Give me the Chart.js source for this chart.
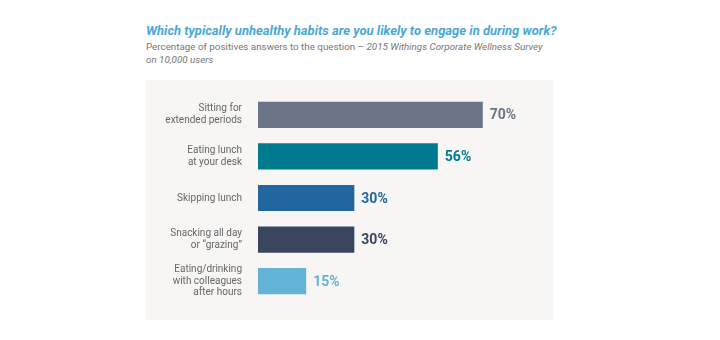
<!DOCTYPE html>
<html>
<head>
<meta charset="utf-8">
<script src="https://cdn.jsdelivr.net/npm/chart.js@4/dist/chart.umd.min.js"></script>
<style>
  body { margin: 0; background: #fff; font-family: Roboto, sans-serif; }
  #wrap { position: relative; width: 720px; height: 340px; }
  #panel { position: absolute; left: 146px; top: 80px; width: 407px; height: 240px; background: #f7f6f5; }
  #title { position: absolute; left: 146px; top: 23px; font-size: 13px; font-weight: bold; font-style: italic; color: #4ba7d6; white-space: nowrap; }
  #sub { position: absolute; left: 146px; top: 41px; font-size: 9.8px; color: #777; line-height: 12.5px; white-space: nowrap; }
  canvas { position: absolute; left: 0; top: 0; }
</style>
</head>
<body>
<div id="wrap">
  <div id="panel"></div>
  <div id="title">Which typically unhealthy habits are you likely to engage in during work?</div>
  <div id="sub">Percentage of positives answers to the question – <i>2015 Withings Corporate Wellness Survey</i><br><i>on 10,000 users</i></div>
  <canvas id="chart" width="720" height="340"></canvas>
</div>
<script>
var habits = [
    ['Sitting for', 'extended periods'],
    ['Eating lunch', 'at your desk'],
    ['Skipping lunch'],
    ['Snacking all day', 'or \u201cgrazing\u201d'],
    ['Eating/drinking', 'with colleagues', 'after hours']
];
var percents = [70, 56, 30, 30, 15];
var barColors = ['#6b7587', '#007a8f', '#2266a0', '#3a4560', '#62b3d6'];
var labelColors = ['#6b7587', '#007a8f', '#2266a0', '#3a4560', '#62b3d6'];

var valueLabels = {
    id: 'valueLabels',
    afterDatasetsDraw: function (chart) {
        var ctx = chart.ctx;
        var meta = chart.getDatasetMeta(0);
        ctx.save();
        ctx.font = 'bold 14px Roboto';
        ctx.textBaseline = 'middle';
        ctx.textAlign = 'left';
        meta.data.forEach(function (bar, i) {
            ctx.fillStyle = labelColors[i];
            ctx.fillText(percents[i] + '%', bar.x + 7, bar.y + 1);
        });
        ctx.restore();
    }
};

var ctx = document.getElementById('chart');

var chart = new Chart(ctx, {
    type: 'bar',
    data: {
        labels: habits,
        datasets: [
            {
                data: percents,
                backgroundColor: barColors,
                borderWidth: 0,
                categoryPercentage: 1,
                barPercentage: 0.63
            }
        ]
    },
    options: {
        indexAxis: 'y',
        responsive: false,
        animation: false,
        layout: {
            padding: { left: 146, right: 173, top: 94, bottom: 38 }
        },
        scales: {
            x: {
                min: 0,
                max: 90,
                display: false
            },
            y: {
                grid: { display: false },
                border: { display: false },
                afterFit: function (scale) { scale.width = 112; },
                ticks: {
                    padding: 8,
                    color: '#666',
                    font: { family: 'Roboto', size: 10, lineHeight: 1.17 }
                }
            }
        },
        plugins: {
            legend: { display: false },
            tooltip: { enabled: false }
        }
    },
    plugins: [valueLabels]
})
</script>
</body>
</html>
